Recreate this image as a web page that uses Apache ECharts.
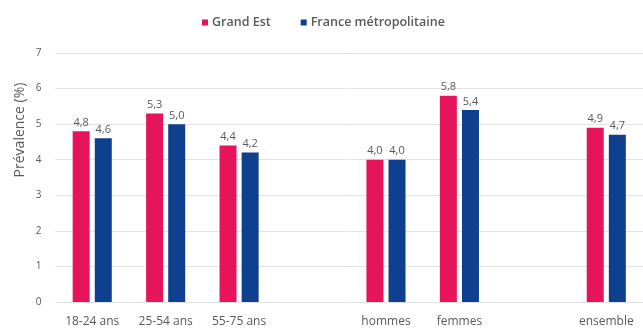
<!DOCTYPE html>
<html>
<head>
<meta charset="utf-8">
<script src="https://cdn.jsdelivr.net/npm/echarts@6/dist/echarts.min.js"></script>
<style>
  html, body { margin: 0; padding: 0; background: #ffffff; }
  #chart { width: 643px; height: 329px; }
</style>
</head>
<body>
<div id="chart"></div>
<script>
// Categories (empty slots separate the age, sex and overall groups)
const categories = ['18-24 ans', '25-54 ans', '55-75 ans', '', 'hommes', 'femmes', '', 'ensemble'];
const seriesNames = ['Grand Est', 'France métropolitaine'];
const grandEst = [4.8, 5.3, 4.4, null, 4.0, 5.8, null, 4.9];
const franceMetro = [4.6, 5.0, 4.2, null, 4.0, 5.4, null, 4.7];
const yTicks = [0, 1, 2, 3, 4, 5, 6, 7];
const yTitle = 'Prévalence (%)';

const textGray = '#595959';
const fontFamily = '"Open Sans", "Liberation Sans", sans-serif';

const chart = echarts.init(document.getElementById('chart'), null, { renderer: 'canvas' });

const labelOpt = {
  show: true,
  position: 'top',
  distance: 3,
  color: textGray,
  fontSize: 11,
  fontFamily: fontFamily,
  formatter: p => (p.value == null ? '' : p.value.toFixed(1).replace('.', ','))
};

chart.setOption({
  animation: false,
  backgroundColor: '#ffffff',
  legend: {
    top: 11,
    left: 197,
    itemWidth: 6,
    itemHeight: 6,
    itemGap: 30,
    icon: 'rect',
    textStyle: { color: textGray, fontSize: 12.5, fontWeight: 600, fontFamily: fontFamily, padding: [0, 0, 0, -1] },
    data: seriesNames
  },
  // axis title sits in the upper part of the left margin
  graphic: [{
    type: 'text',
    x: 20,
    y: 130,
    rotation: Math.PI / 2,
    style: {
      text: yTitle,
      fill: textGray,
      fontSize: 14,
      fontFamily: fontFamily,
      align: 'center',
      verticalAlign: 'middle'
    }
  }],
  grid: { left: 55.5, right: -4.5, top: 53, bottom: 27, containLabel: false },
  xAxis: {
    type: 'category',
    data: categories,
    axisLine: { show: false },
    axisTick: { show: false },
    axisLabel: { color: textGray, fontSize: 12, fontFamily: fontFamily, margin: 14, interval: 0 }
  },
  yAxis: {
    type: 'value',
    min: yTicks[0],
    max: yTicks[yTicks.length - 1],
    interval: 1,
    axisLine: { show: false },
    axisTick: { show: false },
    axisLabel: { color: textGray, fontSize: 10, fontFamily: fontFamily, margin: 14 },
    splitLine: { lineStyle: { color: '#e3e3e3', width: 1 } }
  },
  series: [
    {
      name: seriesNames[0],
      type: 'bar',
      data: grandEst,
      barWidth: 17,
      barGap: '30%',
      itemStyle: { color: '#e6155b' },
      label: labelOpt
    },
    {
      name: seriesNames[1],
      type: 'bar',
      data: franceMetro,
      barWidth: 17,
      itemStyle: { color: '#0f3f8f' },
      label: labelOpt
    }
  ]
});
</script>
</body>
</html>
